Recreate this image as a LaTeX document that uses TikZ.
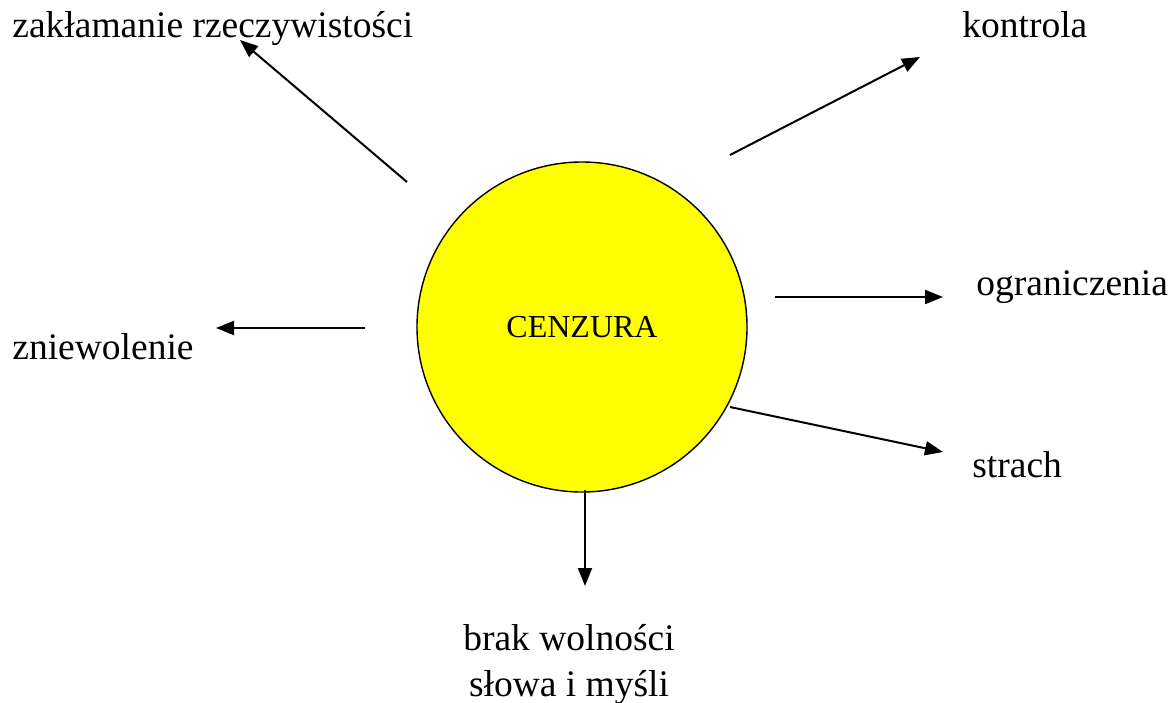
\documentclass[tikz,border=0pt]{standalone}
\usepackage{fontspec}
\setmainfont{Liberation Serif}
\usetikzlibrary{arrows.meta}
\definecolor{zolty}{RGB}{255,255,0}
\begin{document}
\begin{tikzpicture}[x=0.5pt,y=-0.5pt,
    lbl/.style={font=\fontsize{18.75}{22}\selectfont,inner sep=0pt},
    grot/.style={-{Triangle[length=9pt,width=7pt]},line width=1pt}]
  \useasboundingbox (0,0) rectangle (1173,702);
  \node[circle,draw,line width=0.7pt,fill=zolty,minimum size=165pt,inner sep=0pt,
        font=\fontsize{16}{19}\selectfont] (c) at (582,327) {CENZURA};
  \draw
    (12,37) node[lbl,anchor=base west] (zak){zakłamanie rzeczywistości}
    (962,37) node[lbl,anchor=base west] (kon){kontrola}
    (976,295) node[lbl,anchor=base west] (ogr){ograniczenia}
    (12,359) node[lbl,anchor=base west] (zni){zniewolenie}
    (972,477) node[lbl,anchor=base west] (str){strach}
    (569,696) node[lbl,anchor=base,align=center] (brak){brak wolności\\[1pt]słowa i myśli};
  \coordinate (a1) at (407,182); \coordinate (b1) at (240,40);
  \coordinate (a2) at (730,155); \coordinate (b2) at (920,57);
  \coordinate (a3) at (775,297); \coordinate (b3) at (943,297);
  \coordinate (a4) at (365,328); \coordinate (b4) at (216,328);
  \coordinate (a5) at (730,407); \coordinate (b5) at (943,452);
  \coordinate (a6) at (585,490); \coordinate (b6) at (585,586);
  \begin{scope}[grot]
    \draw (a1) to (b1);
    \draw (a2) to (b2);
    \draw (a3) to (b3);
    \draw (a4) to (b4);
    \draw (a5) to (b5);
    \draw (a6) to (b6);
  \end{scope}
\end{tikzpicture}
\end{document}
